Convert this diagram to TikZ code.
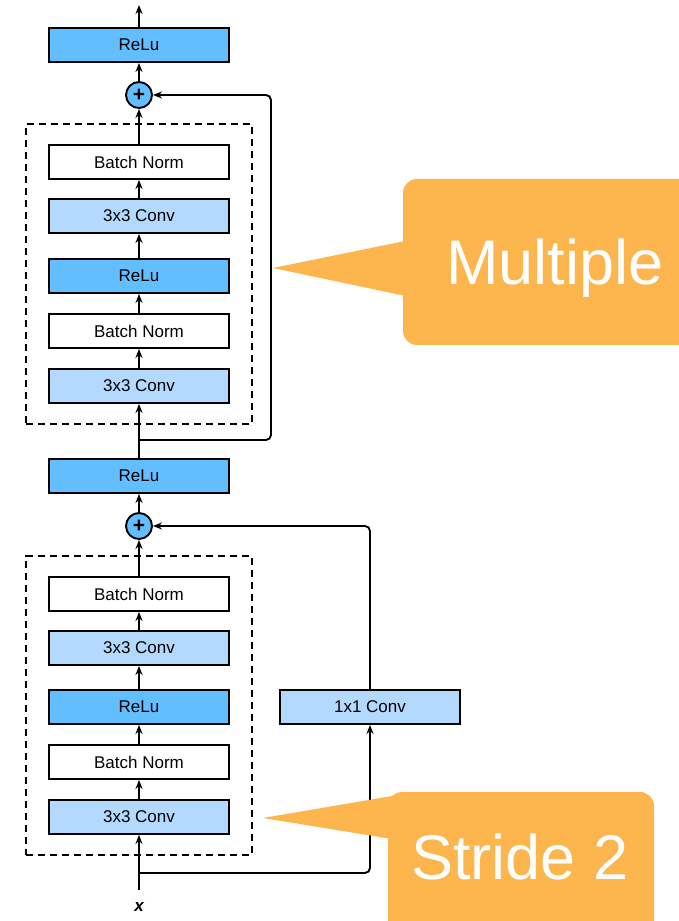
\documentclass[tikz,border=0pt]{standalone}
\usepackage{fontspec}
\setmainfont{Liberation Sans}
\usetikzlibrary{positioning,fit,arrows.meta}
\definecolor{relublue}{RGB}{99,190,255}
\definecolor{convblue}{RGB}{179,217,255}
\definecolor{calloutorange}{RGB}{252,182,77}
\begin{document}
\begin{tikzpicture}[x=1pt, y=1pt, node distance=55pt, line width=1.9pt,
        blk/.style = {draw, minimum width=180pt, minimum height=34pt, font=\fontsize{17}{20}\selectfont},
        relu/.style = {blk, fill=relublue},
        conv/.style = {blk, fill=convblue},
        bn/.style = {blk, fill=white},
        add/.style = {draw, circle, fill=relublue, minimum size=26pt, inner sep=0pt, font=\bfseries\fontsize{21}{21}\selectfont},
        group/.style = {draw, line width=1.6pt, dash pattern=on 7pt off 5pt, inner xsep=22pt, inner ysep=20pt},
        arr/.style = {-{Stealth[length=9pt,width=7pt]}},
        callout/.style = {fill=calloutorange, rounded corners=14pt},
        bigtext/.style = {text=white, font=\fontsize{63}{70}\selectfont}]
        \useasboundingbox (0,0) rectangle (679,921);
        \clip (0,0) rectangle (679,921);
        % first block (stride 2)
        \node (input) [inner ysep=12pt, font=\bfseries\itshape\fontsize{17}{20}\selectfont] at (139,14) {x};
        \node[conv] (conv1) at (139,104) {3x3 Conv};
        \node[bn] (bn1) [above of=conv1] {Batch Norm};
        \node[relu] (relu1) [above of=bn1] {ReLu};
        \node[conv] (conv2) [node distance=59pt, above of=relu1] {3x3 Conv};
        \node[bn] (bn2) [node distance=54pt, above of=conv2] {Batch Norm};
        \node[add] (add1) [node distance=68pt, above of=bn2] {+};
        \node[relu] (relu2) [node distance=50pt, above of=add1] {ReLu};
        \node[conv] (conv11) [node distance=231pt, right of=relu1] {1x1 Conv};
        \node[group, fit=(conv1)(bn2)] (block1) {};
        % second block (multiple)
        \node[conv] (conv3) [node distance=90pt, above of=relu2] {3x3 Conv};
        \node[bn] (bn3) [above of=conv3] {Batch Norm};
        \node[relu] (relu3) [above of=bn3] {ReLu};
        \node[conv] (conv4) [node distance=60pt, above of=relu3] {3x3 Conv};
        \node[bn] (bn4) [node distance=54pt, above of=conv4] {Batch Norm};
        \node[add] (add2) [node distance=67pt, above of=bn4] {+};
        \node[relu] (relu4) [node distance=50pt, above of=add2] {ReLu};
        \node[group, fit=(conv3)(bn4)] (block2) {};
        \coordinate (split1) at (139,48);
        \coordinate (split2) at (139,481);
        \coordinate (turn2) at (271,481);
        \coordinate (out) at (139,916);
        \draw[arr] (input) -- (conv1);
        \draw[arr] (conv1) -- (bn1);
        \draw[arr] (bn1) -- (relu1);
        \draw[arr] (relu1) -- (conv2);
        \draw[arr] (conv2) -- (bn2);
        \draw[arr] (bn2) -- (add1);
        \draw[arr] (add1) -- (relu2);
        \draw[arr, rounded corners=5pt] (split1) -| (conv11);
        \draw[arr, rounded corners=5pt] (conv11) |- (add1);
        \draw[arr] (relu2) -- (conv3);
        \draw[arr] (conv3) -- (bn3);
        \draw[arr] (bn3) -- (relu3);
        \draw[arr] (relu3) -- (conv4);
        \draw[arr] (conv4) -- (bn4);
        \draw[arr] (bn4) -- (add2);
        \draw[arr] (add2) -- (relu4);
        \draw[arr] (relu4) -- (out);
        \draw[arr, rounded corners=5pt] (split2) -- (turn2) |- (add2);
        % callouts
        \fill[callout] (403,576) rectangle (720,742);
        \fill[calloutorange] (273,653) -- (415,682) -- (415,623) -- cycle;
        \node[bigtext, anchor=base] (multi) at (555,636) {Multiple};
        \fill[callout] (388,129) rectangle (654,-40);
        \fill[calloutorange] (263,103) -- (398,126) -- (398,81) -- cycle;
        \node[bigtext, anchor=base] (stride) at (520,41) {Stride 2};
\end{tikzpicture}
\end{document}
